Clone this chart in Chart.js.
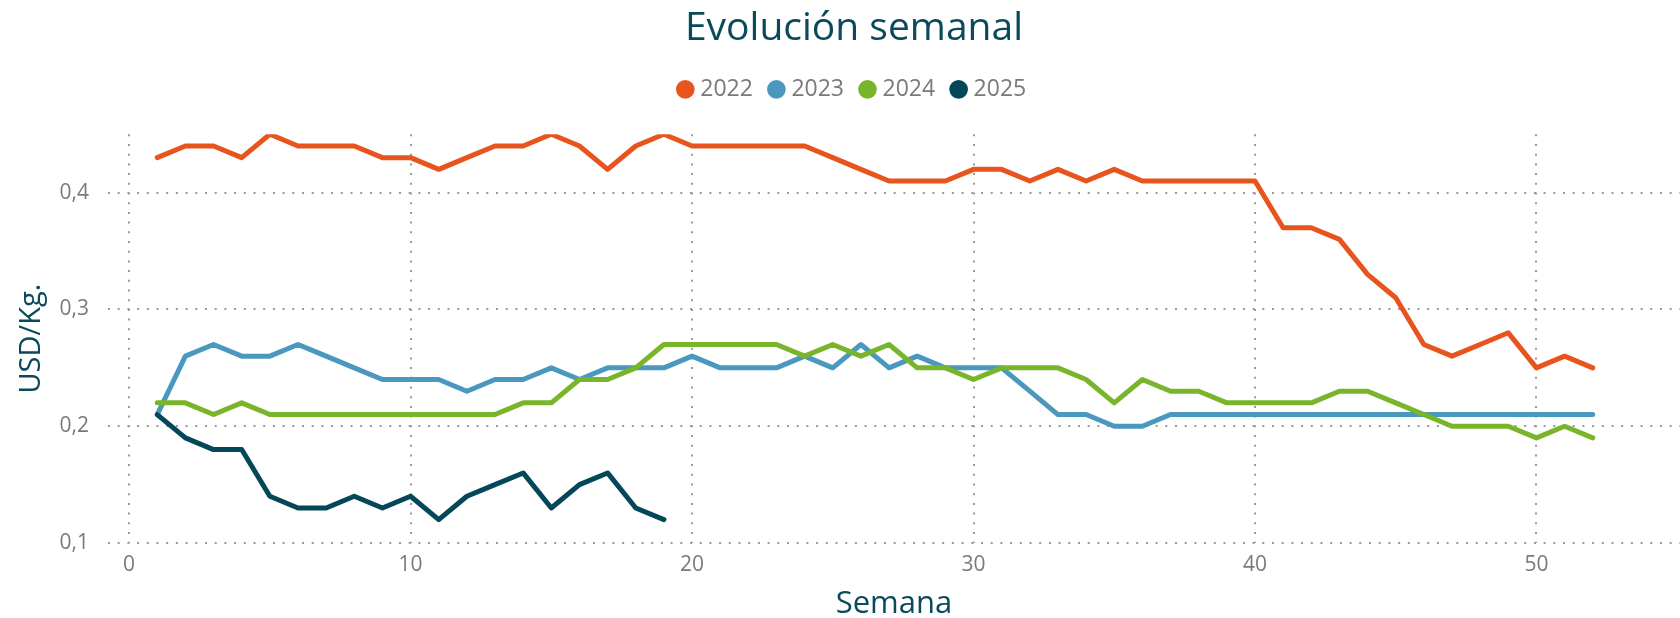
<!DOCTYPE html>
<html lang="es">
<head>
<meta charset="utf-8">
<title>Evolución semanal</title>
<script src="https://cdn.jsdelivr.net/npm/chart.js@4/dist/chart.umd.min.js"></script>
<style>
    html, body { margin: 0; padding: 0; background: #fff; }
    #wrap { width: 1680px; height: 618px; position: relative; }
</style>
</head>
<body>
<div id="wrap"><canvas id="weeklyChart"></canvas></div>
<script>
// Semanas (eje X)
const weeks = [1, 2, 3, 4, 5, 6, 7, 8, 9, 10, 11, 12, 13, 14, 15, 16, 17, 18, 19, 20,
    21, 22, 23, 24, 25, 26, 27, 28, 29, 30, 31, 32, 33, 34, 35, 36, 37, 38, 39, 40,
    41, 42, 43, 44, 45, 46, 47, 48, 49, 50, 51, 52];

// USD/Kg. por semana
const values2022 = [0.43, 0.44, 0.44, 0.43, 0.45, 0.44, 0.44, 0.44, 0.43, 0.43,
    0.42, 0.43, 0.44, 0.44, 0.45, 0.44, 0.42, 0.44, 0.45, 0.44,
    0.44, 0.44, 0.44, 0.44, 0.43, 0.42, 0.41, 0.41, 0.41, 0.42,
    0.42, 0.41, 0.42, 0.41, 0.42, 0.41, 0.41, 0.41, 0.41, 0.41,
    0.37, 0.37, 0.36, 0.33, 0.31, 0.27, 0.26, 0.27, 0.28, 0.25,
    0.26, 0.25];
const values2023 = [0.21, 0.26, 0.27, 0.26, 0.26, 0.27, 0.26, 0.25, 0.24, 0.24,
    0.24, 0.23, 0.24, 0.24, 0.25, 0.24, 0.25, 0.25, 0.25, 0.26,
    0.25, 0.25, 0.25, 0.26, 0.25, 0.27, 0.25, 0.26, 0.25, 0.25,
    0.25, 0.23, 0.21, 0.21, 0.20, 0.20, 0.21, 0.21, 0.21, 0.21,
    0.21, 0.21, 0.21, 0.21, 0.21, 0.21, 0.21, 0.21, 0.21, 0.21,
    0.21, 0.21];
const values2024 = [0.22, 0.22, 0.21, 0.22, 0.21, 0.21, 0.21, 0.21, 0.21, 0.21,
    0.21, 0.21, 0.21, 0.22, 0.22, 0.24, 0.24, 0.25, 0.27, 0.27,
    0.27, 0.27, 0.27, 0.26, 0.27, 0.26, 0.27, 0.25, 0.25, 0.24,
    0.25, 0.25, 0.25, 0.24, 0.22, 0.24, 0.23, 0.23, 0.22, 0.22,
    0.22, 0.22, 0.23, 0.23, 0.22, 0.21, 0.20, 0.20, 0.20, 0.19,
    0.20, 0.19];
const values2025 = [0.21, 0.19, 0.18, 0.18, 0.14, 0.13, 0.13, 0.14, 0.13, 0.14,
    0.12, 0.14, 0.15, 0.16, 0.13, 0.15, 0.16, 0.13, 0.12];

const seriesNames = ['2022', '2023', '2024', '2025'];
const seriesColors = ['#E8541E', '#4B98BF', '#79B52B', '#044759'];
const xTicks = [0, 10, 20, 30, 40, 50];
const yTicks = [0.1, 0.2, 0.3, 0.4];

const darkTeal = '#0B4A5B';
const gray = '#7a7a7a';
const gridColor = '#9a9a9a';
const dotted = [2, 7.7];

Chart.defaults.font.family = "'Open Sans', sans-serif";
Chart.defaults.animation = false;

const toPoints = (vals) => vals.map((v, i) => ({ x: weeks[i], y: v }));

const datasets = [values2022, values2023, values2024, values2025].map((vals, idx) => ({
    label: seriesNames[idx],
    data: toPoints(vals),
    borderColor: seriesColors[idx],
    backgroundColor: seriesColors[idx],
    borderWidth: 5,
    borderJoinStyle: 'round',
    borderCapStyle: 'round',
    pointRadius: 0,
    pointHoverRadius: 0,
    tension: 0,
    order: 4 - idx // last year drawn on top
}));

new Chart(document.getElementById('weeklyChart'), {
    type: 'line',
    data: { datasets },
    options: {
        responsive: true,
        maintainAspectRatio: false,
        layout: { padding: { left: 28, right: 0, top: 0, bottom: 0 } },
        plugins: {
            title: {
                display: true,
                text: 'Evolución semanal',
                color: darkTeal,
                font: { size: 39, weight: 'normal' },
                padding: { top: 5, bottom: 6 }
            },
            legend: {
                display: true,
                position: 'top',
                labels: {
                    usePointStyle: true,
                    pointStyle: 'circle',
                    boxWidth: 7,
                    boxHeight: 13.2,
                    padding: 20,
                    color: gray,
                    font: { size: 23 },
                    sort: (a, b) => a.datasetIndex - b.datasetIndex,
                    generateLabels: (chart) => Chart.defaults.plugins.legend.labels.generateLabels(chart)
                        .map(item => ({ ...item, lineWidth: 0 }))
                }
            },
            tooltip: { enabled: false }
        },
        scales: {
            x: {
                type: 'linear',
                min: -0.75,
                max: 55.1,
                afterBuildTicks: (scale) => { scale.ticks = xTicks.map(v => ({ value: v })); },
                afterFit: (scale) => { scale.height = 75; },
                border: { display: false, dash: dotted },
                grid: { color: gridColor, lineWidth: 2, drawTicks: false, borderDash: dotted },
                ticks: { color: gray, font: { size: 21 }, padding: 9 },
                title: {
                    display: true,
                    text: 'Semana',
                    color: darkTeal,
                    font: { size: 31 },
                    padding: { top: 0, bottom: -5 }
                }
            },
            pad: {
                type: 'linear',
                position: 'top',
                display: true,
                afterFit: (scale) => { scale.height = 23.5; },
                border: { display: false },
                grid: { display: false, drawTicks: false },
                ticks: { display: false }
            },
            y: {
                type: 'linear',
                min: 0.1,
                max: 0.45,
                afterBuildTicks: (scale) => { scale.ticks = yTicks.map(v => ({ value: v })); },
                afterFit: (scale) => { scale.width = 80; },
                border: { display: false, dash: dotted },
                grid: { color: gridColor, lineWidth: 2, drawTicks: false, borderDash: dotted },
                ticks: {
                    color: gray,
                    font: { size: 21 },
                    padding: 19,
                    callback: (v) => v.toFixed(1).replace('.', ',')
                },
                title: {
                    display: true,
                    text: 'USD/Kg.',
                    color: darkTeal,
                    font: { size: 29 },
                    padding: { top: -14, bottom: 0 }
                }
            }
        }
    }
});
</script>
</body>
</html>
